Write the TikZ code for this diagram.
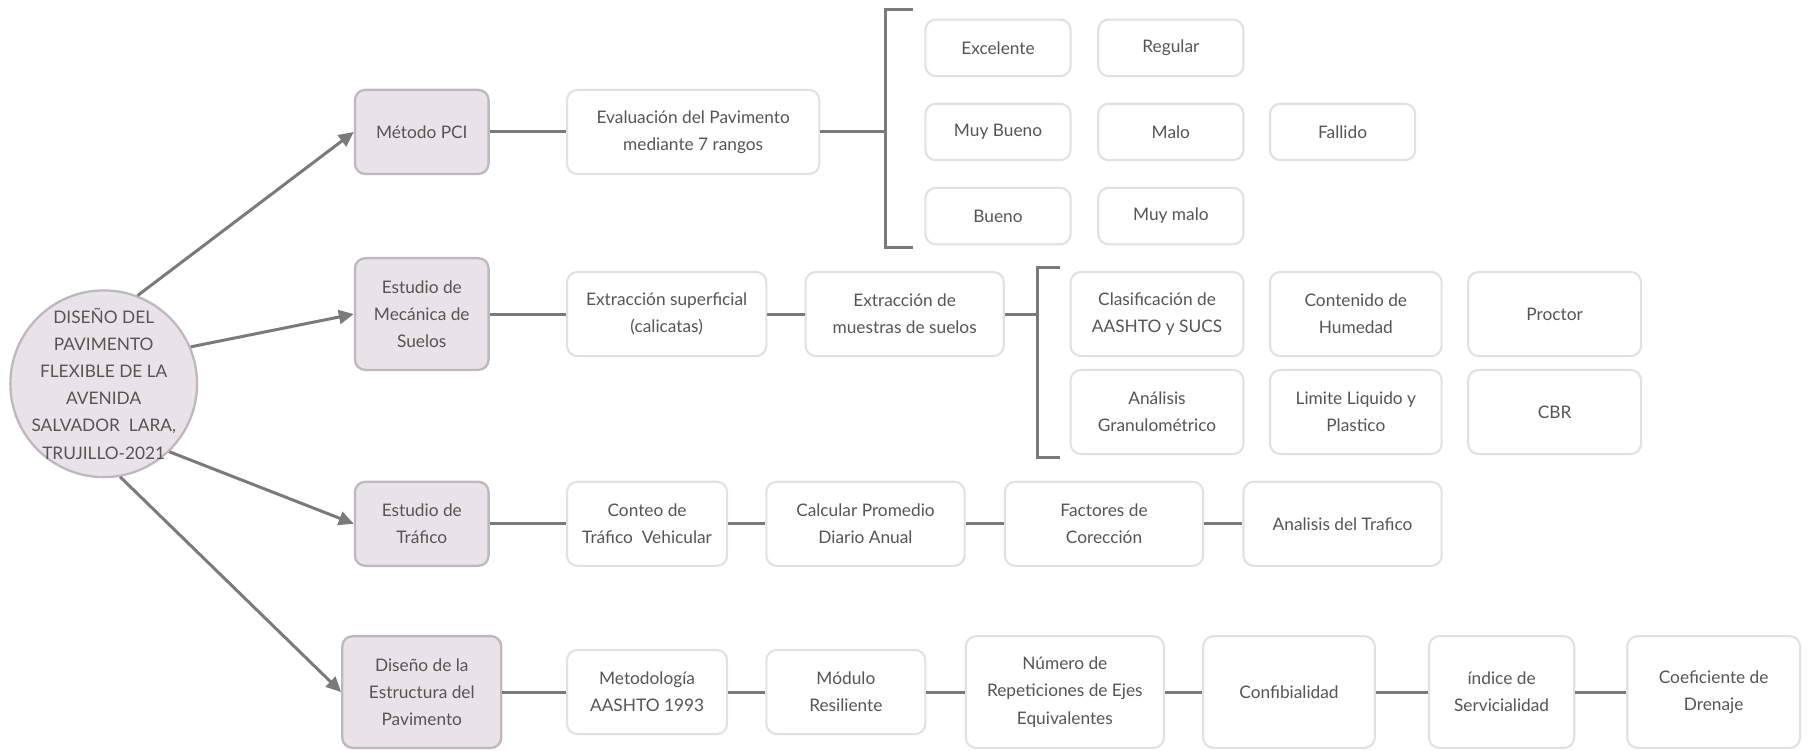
\documentclass[tikz,border=0pt]{standalone}
\usepackage{fontspec}
\setmainfont{Lato}
\usetikzlibrary{arrows.meta,positioning}
\definecolor{lineg}{HTML}{7A7A7A}
\definecolor{textg}{HTML}{555555}
\definecolor{mainfill}{HTML}{E7E3E7}
\definecolor{mainedge}{HTML}{BDB8BD}
\definecolor{boxedge}{HTML}{E3DFE2}

\begin{document}
\begin{tikzpicture}
  [x=1pt,y=-1pt,
   every node/.style={align=center,inner sep=0pt,text=textg,font=\fontsize{15}{23.5}\selectfont},
   root/.style={circle,draw=mainedge,line width=2pt,fill=mainfill,inner sep=-20pt,minimum size=162pt},
   topic/.style={rectangle,rounded corners=9pt,draw=mainedge,line width=2pt,fill=mainfill,minimum width=116pt,minimum height=73pt},
   item/.style={rectangle,rounded corners=9pt,draw=boxedge,line width=1.8pt,fill=white,minimum width=126pt,minimum height=49pt},
   link/.style={draw=lineg,line width=2.6pt},
   arr/.style={link,-{Triangle[length=13pt,width=12pt]}}]
  \useasboundingbox (0,0) rectangle (1568,651);

  \node[root] (root) at (90,333) {DISEÑO DEL\\PAVIMENTO\\FLEXIBLE DE LA\\AVENIDA\\SALVADOR~~LARA,\\TRUJILLO-2021};

  \node[topic] (pci) at (366,114.5) {Método PCI};
  \node[topic,minimum height=97pt] (suelos) at (366,272.5) {Estudio de\\Mecánica de\\Suelos};
  \node[topic] (trafico) at (366,454.5) {Estudio de\\Tráfico};
  \node[topic,minimum width=138pt,minimum height=97pt] (diseno) at (366,600.5) {Diseño de la\\Estructura del\\Pavimento};

  % metodo PCI
  \node[item,minimum width=219pt,minimum height=73pt] (eval) at (601.5,114.5) {Evaluación del Pavimento\\mediante 7 rangos};
  \node[item] (exc) at (866,41.5) {Excelente};
  \node[item] (reg) at (1016,41.5) {Regular};
  \node[item] (mbue) at (866,114.5) {Muy Bueno};
  \node[item] (malo) at (1016,114.5) {Malo};
  \node[item] (fall) at (1165,114.5) {Fallido};
  \node[item] (bue) at (866,187.5) {Bueno};
  \node[item] (mmal) at (1016,187.5) {Muy malo};
  \coordinate (b1) at (768,114.5);

  % mecanica de suelos
  \node[item,minimum width=173pt,minimum height=73pt] (extsup) at (578.5,272.5) {Extracción superficial\\(calicatas)};
  \node[item,minimum width=172pt,minimum height=73pt] (extmue) at (785,272.5) {Extracción de\\muestras de suelos};
  \node[item,minimum width=150pt,minimum height=73pt] (clas) at (1004,272.5) {Clasificación de\\AASHTO y SUCS};
  \node[item,minimum width=149pt,minimum height=73pt] (cont) at (1176.5,272.5) {Contenido de\\Humedad};
  \node[item,minimum width=150pt,minimum height=73pt] (proc) at (1349,272.5) {Proctor};
  \node[item,minimum width=150pt,minimum height=73pt] (anal) at (1004,357.5) {Análisis\\Granulométrico};
  \node[item,minimum width=149pt,minimum height=73pt] (lim) at (1176.5,357.5) {Limite Liquido y\\Plastico};
  \node[item,minimum width=150pt,minimum height=73pt] (cbr) at (1349,357.5) {CBR};
  \coordinate (b2) at (900,272.5);

  % trafico
  \node[item,minimum width=139pt,minimum height=73pt] (conteo) at (561.5,454.5) {Conteo de\\Tráfico~~Vehicular};
  \node[item,minimum width=172pt,minimum height=73pt] (prom) at (751,454.5) {Calcular Promedio\\Diario Anual};
  \node[item,minimum width=172pt,minimum height=73pt] (fact) at (958,454.5) {Factores de\\Corección};
  \node[item,minimum width=172pt,minimum height=73pt] (antr) at (1165,454.5) {Analisis del Trafico};

  % diseno de la estructura
  \node[item,minimum width=139pt,minimum height=73pt] (aash) at (561.5,600.5) {Metodología\\AASHTO 1993};
  \node[item,minimum width=138pt,minimum height=73pt] (modu) at (734,600.5) {Módulo\\Resiliente};
  \node[item,minimum width=172pt,minimum height=97pt] (nrep) at (924,600.5) {Número de\\Repeticiones de Ejes\\Equivalentes};
  \node[item,minimum width=149pt,minimum height=97pt] (conf) at (1118.5,600.5) {Confibialidad};
  \node[item,minimum width=126pt,minimum height=97pt] (indi) at (1303,600.5) {índice de\\Servicialidad};
  \node[item,minimum width=150pt,minimum height=97pt] (coef) at (1487,600.5) {Coeficiente de\\Drenaje};

  \draw[arr] (root.69) -- (pci.west);
  \draw[arr] (root.23) -- (suelos.west);
  \draw[arr] (root.-46) -- (trafico.west);
  \draw[arr] (root.-80) -- (diseno.west);

  \draw[link] (792,8) -| (b1) |- (792,215);
  \draw[link] (920,232) -| (b2) |- (920,397);

\foreach \from/\to in {pci/eval,eval/b1,suelos/extsup,extsup/extmue,extmue/b2,
    trafico/conteo,conteo/prom,prom/fact,fact/antr,
    diseno/aash,aash/modu,modu/nrep,nrep/conf,conf/indi,indi/coef}
    \draw[link] (\from) -- (\to);

\end{tikzpicture}
\end{document}
